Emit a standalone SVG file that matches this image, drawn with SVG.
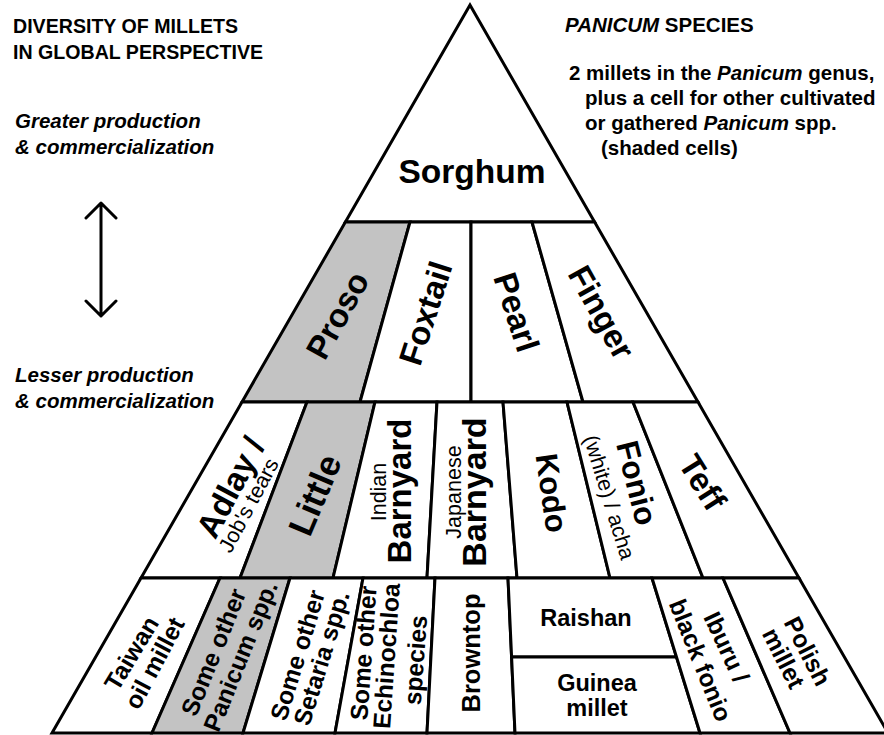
<svg xmlns="http://www.w3.org/2000/svg" width="884" height="735" viewBox="0 0 884 735">
<style>
text{font-family:"Liberation Sans",Arial,sans-serif;fill:#000;}
.cell{fill:#fff;stroke:#000;stroke-width:3;stroke-linejoin:miter;}
.pan{fill:#c3c3c3;}
.big{font-size:33px;font-weight:bold;text-anchor:middle;}
.med{font-size:24.5px;font-weight:bold;text-anchor:middle;}
.hz{font-size:23.5px;font-weight:bold;text-anchor:middle;}
.sm{font-size:21.5px;text-anchor:middle;}
.hd{font-size:19.6px;font-weight:bold;}
.hi{font-size:20.5px;font-weight:bold;font-style:italic;}
.nt{font-size:20.5px;font-weight:bold;}
.arr{fill:none;stroke:#000;stroke-width:3;stroke-linecap:round;stroke-linejoin:round;}
</style>
<rect width="884" height="735" fill="#fff"/>

<g id="legend">
<text class="hd" x="13" y="33">DIVERSITY OF MILLETS</text>
<text class="hd" x="13" y="59">IN GLOBAL PERSPECTIVE</text>
<text class="hi" x="15" y="128">Greater production</text>
<text class="hi" x="15" y="154">&amp; commercialization</text>
<text class="hi" x="15" y="382">Lesser production</text>
<text class="hi" x="15" y="408">&amp; commercialization</text>
<text class="hd" x="565" y="32" style="font-size:20.5px"><tspan font-style="italic">PANICUM</tspan> SPECIES</text>
<text class="nt" x="569" y="80">2 millets in the <tspan font-style="italic">Panicum</tspan> genus,</text>
<text class="nt" x="585" y="105">plus a cell for other cultivated</text>
<text class="nt" x="585" y="130">or gathered <tspan font-style="italic">Panicum</tspan> spp.</text>
<text class="nt" x="601" y="155">(shaded cells)</text>
</g>

<g id="connectors">
<path class="arr" d="M101,203 V316 M86,218 L101,203 L116,218 M86,301 L101,316 L116,301"/>
</g>

<g id="sorghum"><polygon class="cell" points="470,5 345.4,222 594.6,222"/>
<text class="big" x="472" y="183" style="font-size:33.5px">Sorghum</text></g>

<g id="proso"><polygon class="cell pan" points="345.4,222 410,222 360,402 242,402"/>
<text class="big" transform="translate(337,315) rotate(-61)" y="12">Proso</text></g>
<g id="foxtail"><polygon class="cell" points="410,222 471,222 471,402 360,402"/>
<text class="big" transform="translate(425,313) rotate(-72)" y="12">Foxtail</text></g>
<g id="pearl"><polygon class="cell" points="471,222 532,222 583,402 471,402"/>
<text class="big" transform="translate(517,312) rotate(72)" y="12">Pearl</text></g>
<g id="finger"><polygon class="cell" points="532,222 594.6,222 698,402 583,402"/>
<text class="big" transform="translate(602,312) rotate(61)" y="12">Finger</text></g>

<g id="adlay"><polygon class="cell" points="242,402 307,402 240,578 141,578"/>
<text class="big" transform="translate(230,487) rotate(-62)" y="12">Adlay /</text>
<text class="sm" transform="translate(248,505) rotate(-62)" y="8">Job's tears</text></g>
<g id="little"><polygon class="cell pan" points="307,402 375,402 333,578 240,578"/>
<text class="big" transform="translate(315,495) rotate(-67)" y="12" style="font-size:35px">Little</text></g>
<g id="indian-barnyard"><polygon class="cell" points="375,402 437,402 427,578 333,578"/>
<text class="sm" transform="translate(378,492) rotate(-90)" y="8">Indian</text>
<text class="big" transform="translate(399,491) rotate(-90)" y="12">Barnyard</text></g>
<g id="japanese-barnyard"><polygon class="cell" points="437,402 503,402 517,578 427,578"/>
<text class="sm" transform="translate(453,492) rotate(-90)" y="8">Japanese</text>
<text class="big" transform="translate(474,492) rotate(-90)" y="12" style="font-size:34px">Barnyard</text></g>
<g id="kodo"><polygon class="cell" points="503,402 567,402 610,578 517,578"/>
<text class="big" transform="translate(552,493) rotate(82)" y="11" style="font-size:31px">Kodo</text></g>
<g id="fonio"><polygon class="cell" points="567,402 633,402 703,578 610,578"/>
<text class="big" transform="translate(637,483) rotate(76)" y="11" style="font-size:31.5px">Fonio</text>
<text class="sm" transform="translate(610,497) rotate(73)" y="8">(white) / acha</text></g>
<g id="teff"><polygon class="cell" points="633,402 698,402 799,578 703,578"/>
<text class="big" transform="translate(703,482) rotate(58)" y="12">Teff</text></g>

<g id="taiwan"><polygon class="cell" points="141,578 220,578 152,733 52,733"/>
<text class="med" transform="translate(131,653) rotate(-59)" y="9">Taiwan</text>
<text class="med" transform="translate(154,663) rotate(-62)" y="9">oil millet</text></g>
<g id="panicum-spp"><polygon class="cell pan" points="220,578 290,578 243,733 152,733"/>
<text class="med" transform="translate(213,652) rotate(-68)" y="9">Some other</text>
<text class="med" transform="translate(240,656) rotate(-68)" y="9">Panicum spp.</text></g>
<g id="setaria-spp"><polygon class="cell" points="290,578 363,578 335,733 243,733"/>
<text class="med" transform="translate(297,655) rotate(-73)" y="9">Some other</text>
<text class="med" transform="translate(321,658) rotate(-73)" y="9">Setaria spp.</text></g>
<g id="echinochloa-spp"><polygon class="cell" points="363,578 435,578 427,733 335,733"/>
<text class="med" transform="translate(363,653) rotate(-86)" y="9">Some other</text>
<text class="med" transform="translate(386,656) rotate(-86)" y="9">Echinochloa</text>
<text class="med" transform="translate(415,660) rotate(-86)" y="9">species</text></g>
<g id="browntop"><polygon class="cell" points="435,578 508,578 515,733 427,733"/>
<text class="med" transform="translate(471,653) rotate(-90)" y="9" style="font-size:25.5px">Browntop</text></g>
<g id="raishan"><polygon class="cell" points="508,578 652,578 676.5,657 511.6,657"/>
<text class="hz" x="586" y="626">Raishan</text></g>
<g id="guinea"><polygon class="cell" points="511.6,657 676.5,657 700,733 515,733"/>
<text class="hz" x="597" y="691">Guinea</text>
<text class="hz" x="597" y="716">millet</text></g>
<g id="iburu"><polygon class="cell" points="652,578 723,578 790,733 700,733"/>
<text class="med" transform="translate(727,647) rotate(65)" y="9">Iburu /</text>
<text class="med" transform="translate(701,660) rotate(68)" y="9">black fonio</text></g>
<g id="polish"><polygon class="cell" points="723,578 799,578 888,733 790,733"/>
<text class="med" transform="translate(808,651) rotate(63)" y="9">Polish</text>
<text class="med" transform="translate(784,658) rotate(63)" y="9">millet</text></g>
</svg>
